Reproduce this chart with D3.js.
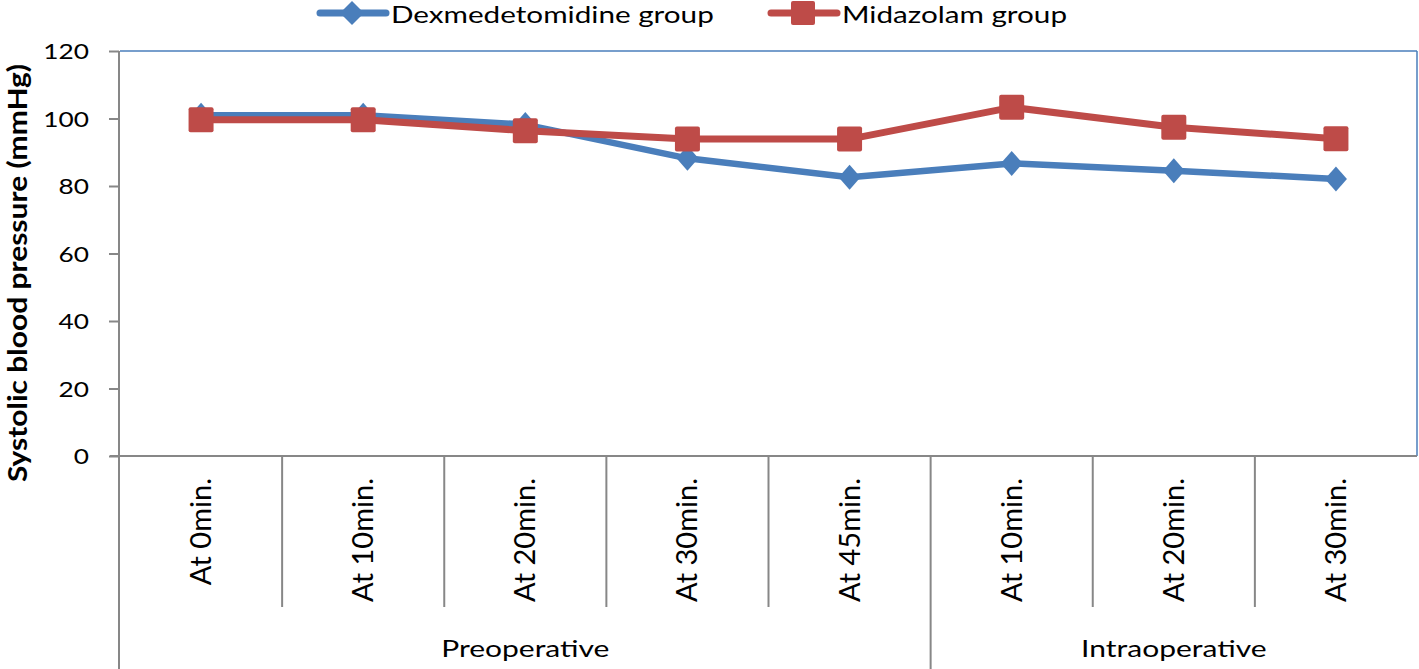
<!DOCTYPE html>
<html><head><meta charset="utf-8">
<script src="https://cdn.jsdelivr.net/npm/d3@7/dist/d3.min.js"></script>
<style>body{margin:0;background:#fff}svg{display:block}text{font-family:Lato,"Open Sans",sans-serif;fill:#000}</style>
</head><body><svg id="c" width="1419" height="669"></svg>
<script>
const categories = ["At 0min.","At 10min.","At 20min.","At 30min.","At 45min.","At 10min.","At 20min.","At 30min."];
const groups = [{name:"Preoperative", start:0, end:5},{name:"Intraoperative", start:5, end:8}];
const dexValues = [101, 101, 98.2, 88.2, 82.6, 86.7, 84.5, 82.1];
const midValues = [99.6, 99.6, 96.4, 93.9, 93.9, 103.3, 97.4, 94.0];
const yTicks = [0,20,40,60,80,100,120];
const seriesNames = ["Dexmedetomidine group","Midazolam group"];
const yTitle = "Systolic blood pressure (mmHg)";

const svg = d3.select("#c");
const L=120, R=1417, T=51, B=456;
const SX = 1.25; // horizontal stretch of text in the reference
const blue="#4A7EBB", red="#BE4B48", gray="#878787";
const x = d3.scaleBand().domain(d3.range(categories.length)).range([L,R]);
const cx = i => x(i)+x.bandwidth()/2;
const y = d3.scaleLinear().domain([0,120]).range([B,T]);

// plot border top/right
svg.append("line").attr("x1",L).attr("x2",R).attr("y1",T).attr("y2",T).attr("stroke",blue).attr("stroke-width",1.5);
svg.append("line").attr("x1",R).attr("x2",R).attr("y1",T).attr("y2",B).attr("stroke",blue).attr("stroke-width",1.5);

// y axis
const yAxis = d3.axisLeft(y).tickValues(yTicks).tickSize(10).tickPadding(20);
const ga = svg.append("g").attr("transform",`translate(${L-1},0)`).call(yAxis);
ga.select(".domain").attr("stroke",gray).attr("stroke-width",2).attr("d",`M0,${T}V669`);
ga.selectAll(".tick line").attr("stroke",gray).attr("stroke-width",2);
ga.selectAll(".tick text").attr("font-size",21).attr("font-family","Lato").attr("dy","0.36em")
  .attr("x",0).attr("transform",`translate(-30,0) scale(${SX},1)`);

// x axis line
svg.append("line").attr("x1",L-10).attr("x2",R).attr("y1",B).attr("y2",B).attr("stroke",gray).attr("stroke-width",2);

// category separators
const groupBounds = new Set(groups.map(g=>g.start));
d3.range(1,categories.length).forEach(i=>{
  const isG = groupBounds.has(i);
  svg.append("line").attr("x1",x(i)).attr("x2",x(i)).attr("y1",B).attr("y2",isG?669:607)
    .attr("stroke",gray).attr("stroke-width",2);
});

// category labels
svg.selectAll(".cat").data(categories).join("text")
  .attr("transform",(d,i)=>`translate(${cx(i)+10},478) rotate(-90)`)
  .attr("text-anchor","end").attr("font-size",29).text(d=>d);

// group labels
svg.selectAll(".grp").data(groups).join("text")
  .attr("transform",g=>`translate(${(x(g.start)+(g.end<categories.length?x(g.end):R))/2},657) scale(${SX},1)`)
  .attr("text-anchor","middle").attr("font-size",24).text(g=>g.name);

// y title
svg.append("text").attr("transform",`translate(27,273) rotate(-90) scale(1.11,1)`).attr("text-anchor","middle")
  .attr("font-size",27).attr("font-weight","bold").text(yTitle);

// lines
const line = d3.line().x((d,i)=>cx(i)).y(d=>y(d));
const diamond = (px,py,w,h)=>`M${px},${py-h/2}L${px+w/2},${py}L${px},${py+h/2}L${px-w/2},${py}Z`;
svg.append("path").attr("d",line(dexValues)).attr("fill","none").attr("stroke",blue).attr("stroke-width",6.5).attr("stroke-linejoin","round");
svg.selectAll(".dm").data(dexValues).join("path").attr("d",(d,i)=>diamond(cx(i),y(d),22,25)).attr("fill",blue);
svg.append("path").attr("d",line(midValues)).attr("fill","none").attr("stroke",red).attr("stroke-width",7).attr("stroke-linejoin","round");
svg.selectAll(".sq").data(midValues).join("rect").attr("x",(d,i)=>cx(i)-12.5).attr("y",d=>y(d)-12.5)
  .attr("width",25).attr("height",25).attr("rx",2).attr("fill",red);

// legend
const lg = svg.append("g");
lg.append("line").attr("x1",320).attr("x2",386).attr("y1",13).attr("y2",13).attr("stroke",blue).attr("stroke-width",7).attr("stroke-linecap","round");
lg.append("path").attr("d",diamond(352,13,24,24)).attr("fill",blue);
lg.append("text").attr("transform",`translate(391,23) scale(1.29,1)`).attr("font-size",23).text(seriesNames[0]);
lg.append("line").attr("x1",771).attr("x2",837).attr("y1",13).attr("y2",13).attr("stroke",red).attr("stroke-width",7).attr("stroke-linecap","round");
lg.append("rect").attr("x",791).attr("y",1).attr("width",24).attr("height",24).attr("rx",2).attr("fill",red);
lg.append("text").attr("transform",`translate(842,23) scale(1.29,1)`).attr("font-size",23).text(seriesNames[1]);
</script></body></html>
